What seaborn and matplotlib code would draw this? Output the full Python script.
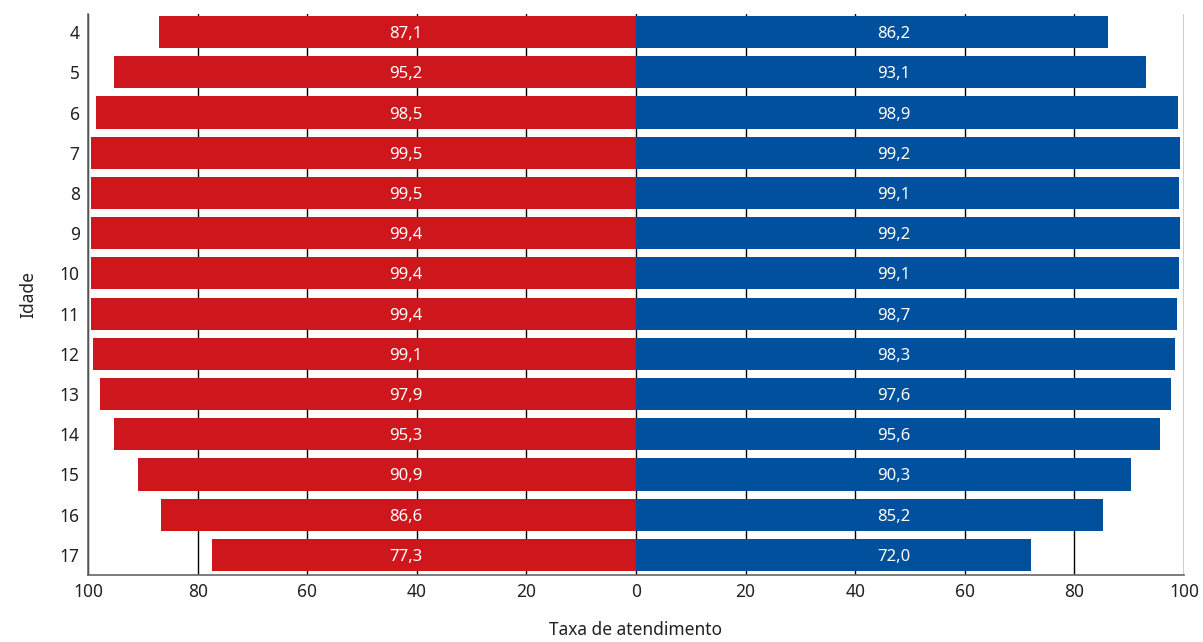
import numpy as np
import pandas as pd
import seaborn as sns
import matplotlib.pyplot as plt

sns.set_style("white")
plt.rcParams['font.family'] = ['Noto Sans', 'DejaVu Sans']

# Dados
idades = ['4', '5', '6', '7', '8', '9', '10', '11', '12', '13', '14', '15', '16', '17']
esquerda = [87.1, 95.2, 98.5, 99.5, 99.5, 99.4, 99.4, 99.4, 99.1, 97.9, 95.3, 90.9, 86.6, 77.3]
direita = [86.2, 93.1, 98.9, 99.2, 99.1, 99.2, 99.1, 98.7, 98.3, 97.6, 95.6, 90.3, 85.2, 72.0]
ticks = [-100, -80, -60, -40, -20, 0, 20, 40, 60, 80, 100]

vermelho = '#CD171D'
azul = '#00509E'

df = pd.DataFrame({'Idade': idades, 'esq': [-v for v in esquerda], 'dir': direita})

fig = plt.figure(figsize=(12.03, 6.42), dpi=100)
ax = fig.add_axes([0.0732, 0.1044, 0.9110, 0.8738])

sns.barplot(data=df, y='Idade', x='esq', order=idades, color=vermelho,
            saturation=1, width=0.8, orient='h', ax=ax, zorder=3, linewidth=0)
sns.barplot(data=df, y='Idade', x='dir', order=idades, color=azul,
            saturation=1, width=0.8, orient='h', ax=ax, zorder=3, linewidth=0)

# rótulos
for i, (e, d) in enumerate(zip(esquerda, direita)):
    ax.text(-42, i + 0.05, f"{e:.1f}".replace('.', ','), color='white', ha='center',
            va='center', fontsize=12, zorder=4)
    ax.text(47, i + 0.05, f"{d:.1f}".replace('.', ','), color='white', ha='center',
            va='center', fontsize=12, zorder=4)

ax.set_xlim(-100, 100)
ax.set_ylim(13.5, -0.45)
ax.set_xticks(ticks)
ax.set_xticklabels([str(abs(t)) for t in ticks])
for t in ticks:
    ax.axvline(t, color='black', lw=1, zorder=1)

ax.tick_params(axis='both', length=0, labelsize=12.5, colors='#222222', pad=6)
ax.set_xlabel('Taxa de atendimento', fontsize=12.5, labelpad=14, color='#222222')
ax.set_ylabel('Idade', fontsize=12.5, labelpad=16, color='#222222')

for s in ['top', 'right']:
    ax.spines[s].set_visible(False)
for s in ['left', 'bottom']:
    ax.spines[s].set_color('#666666')
    ax.spines[s].set_linewidth(1.2)
    ax.spines[s].set_zorder(5)

fig.savefig('out.png', dpi=100)
